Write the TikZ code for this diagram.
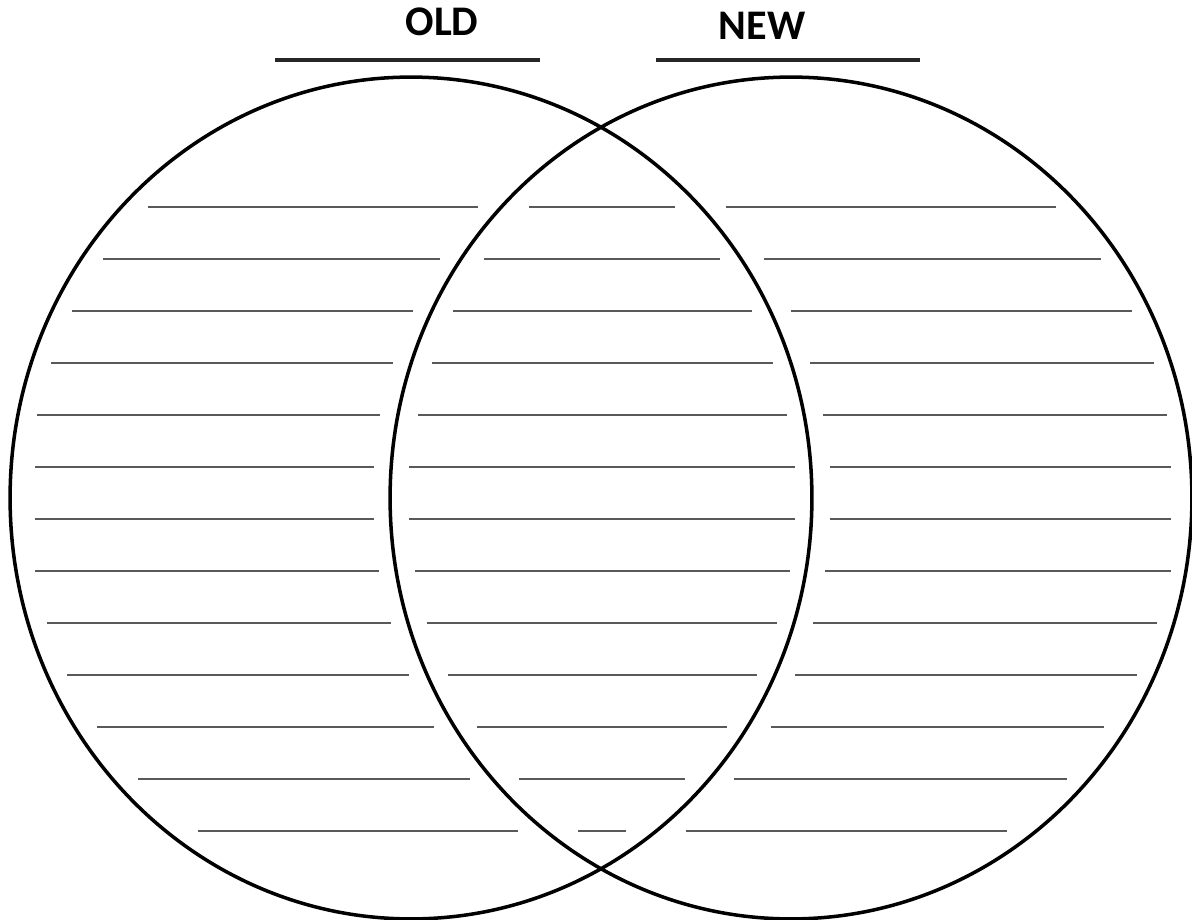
\documentclass[tikz,border=0pt]{standalone}
\usepackage{fontspec}
\setmainfont{Carlito}
\usetikzlibrary{shapes.geometric}

\begin{document}
\begin{tikzpicture}[
    x=0.02cm, y=-0.02cm,
    ring/.style={ellipse, draw, line width=2pt, inner sep=0pt, minimum width=16.04cm, minimum height=16.84cm},
    title/.style={font=\fontsize{24}{28}\selectfont\bfseries, inner sep=0pt},
    bar/.style={line width=1.9pt, black!85},
    rule/.style={line width=1.4pt, black!65}
]
\useasboundingbox (0,0) rectangle (1192,919);

% Headings
\node[title] (old) at (442,22) {OLD};
\node[title] (new) at (762,26) {NEW};
\draw[bar] (275,60) -- (540,60);
\draw[bar] (656,60) -- (920,60);

% The two circles
\node[ring] (oldset) at (411,498) {};
\node[ring] (newset) at (791,498) {};

% Writing lines: left part, shared part, right part
\foreach \y/\la/\lb/\ma/\mb/\ra/\rb in {
    207/148/478/529/675/726/1056,
    259/103/440/484/720/764/1101,
    311/72/413/453/752/791/1132,
    363/51/393/432/773/810/1154,
    415/37/380/418/787/823/1167,
    467/35/374/409/795/830/1171,
    519/35/374/409/795/830/1171,
    571/35/379/415/790/825/1171,
    623/47/391/427/777/813/1157,
    675/67/409/448/757/795/1137,
    727/97/434/477/727/771/1104,
    779/138/470/519/685/734/1067,
    831/198/518/578/626/686/1007}{
  \draw[rule] (\la,\y) -- (\lb,\y);
  \draw[rule] (\ma,\y) -- (\mb,\y);
  \draw[rule] (\ra,\y) -- (\rb,\y);
}

\end{tikzpicture}
\end{document}
